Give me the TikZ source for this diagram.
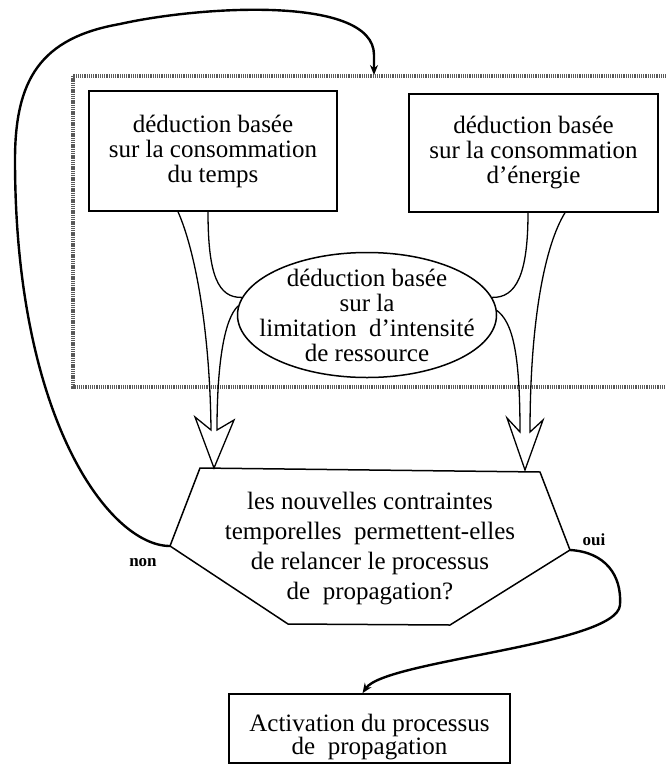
\documentclass[tikz,border=0pt]{standalone}
\usepackage{fontspec}
\setmainfont{Liberation Serif}
\usetikzlibrary{shapes}
\usetikzlibrary{arrows.meta}
\tikzset{
	flownode/.style = {
		align=center,
		inner sep=0pt,
		text centered,
		font=\fontsize{25}{25}\selectfont
	},
	node_box/.style = {
		flownode,
		rectangle,
		draw=black,
		line width=1.5pt,
		minimum width=248pt,
		minimum height=120pt
	},
	node_ell/.style = {
		flownode,
		ellipse,
		draw=black,
		line width=1.5pt,
		minimum width=259pt,
		minimum height=125pt
	},
	node_hex/.style = {
		draw=black,
		line width=1.5pt,
		line join=miter
	},
	node_lbl/.style = {
		inner sep=0pt,
		font=\fontsize{17}{17}\selectfont\bfseries
	},
	line_flow/.style = {
		draw=black,
		line width=1.3pt,
		line join=miter
	},
	line_loop/.style = {
		draw=black,
		line width=2.4pt,
		-{Stealth[length=10pt,width=8pt]}
	},
	frame_hatch/.style = {
		draw=black!65,
		line width=4.5pt,
		dash pattern=on 1.3pt off 0.9pt
	},
}
\begin{document}
\begin{tikzpicture}[x=1pt,y=-1pt]
\useasboundingbox (0,0) rectangle (666,774);
\clip (0,0) rectangle (666,774);
% cadre des deductions
\draw[frame_hatch] (73,76) rectangle (700,387);
\coordinate (frame_in) at (374,75);
% les trois deductions
\node[node_box] (ded_temps) at (213,151) {déduction basée\\sur la consommation\\du temps};
\node[node_box, minimum width=249pt, minimum height=118pt] (ded_energie) at (533.5,153) {déduction basée\\sur la consommation\\d'énergie};
\node[node_ell] (ded_res) at (367,315) {};
\node[flownode] (ded_res_txt) at (ded_res.center) {déduction basée\\sur la\\limitation~~d'intensité\\de ressource};
% test
\coordinate (q_nw) at (200,468);
\coordinate (q_ne) at (540,472);
\coordinate (q_e) at (570,550);
\coordinate (q_se) at (450,625);
\coordinate (q_sw) at (288,624);
\coordinate (q_w) at (170,546);
\draw[node_hex] (q_nw) -- (q_ne) -- (q_e) -- (q_se) -- (q_sw) -- (q_w) -- cycle;
\node[flownode, font=\fontsize{25}{30}\selectfont] (q_txt) at (370,549) {les nouvelles contraintes\\temporelles~~permettent-elles\\de relancer le processus\\de~~propagation?};
% activation
\node[node_box, minimum width=281pt, minimum height=69pt] (act) at (369.5,728.5) {};
\node[flownode, font=\fontsize{25}{23}\selectfont] (act_txt) at ([yshift=-9pt]act.center) {Activation du processus\\de~~propagation};
% entonnoirs
\draw[line_flow] ([xshift=-5pt]ded_temps.south) .. controls (208,275) and (218,298) .. (ded_res.172);
\draw[line_flow] ([xshift=-35pt]ded_temps.south) .. controls (195,250) and (210,330) .. (211,430)
	-- ++(-16,-13) -- ++(19,51) -- ++(20,-48) -- ++(-17,10)
	.. controls (217,360) and (225,318) .. (ded_res.176);
\draw[line_flow] ([xshift=-5.5pt]ded_energie.south) .. controls (528,275) and (516,298) .. (ded_res.8);
\draw[line_flow] ([xshift=31.5pt]ded_energie.south) .. controls (545,245) and (530,320) .. (530,432)
	-- ++(13,-12) -- ++(-18,50) -- ++(-18,-52) -- ++(13,14)
	.. controls (520,350) and (512,322) .. (ded_res.2);
% boucle non / oui
\draw[line_loop] (q_w) .. controls (110,546) and (15,420) .. (15,160)
	.. controls (15,80) and (40,38) .. (120,24)
	.. controls (200,6) and (374,-5) .. (374,55) -- (frame_in);
\draw[line_loop] (q_e) .. controls (605,552) and (622,575) .. (620,605)
	.. controls (617,645) and (385,660) .. ([xshift=-7pt]act.north);
\node[node_lbl] (lbl_non) at (143,563) {non};
\node[node_lbl] (lbl_oui) at (594,540) {oui};
\end{tikzpicture}
\end{document}
